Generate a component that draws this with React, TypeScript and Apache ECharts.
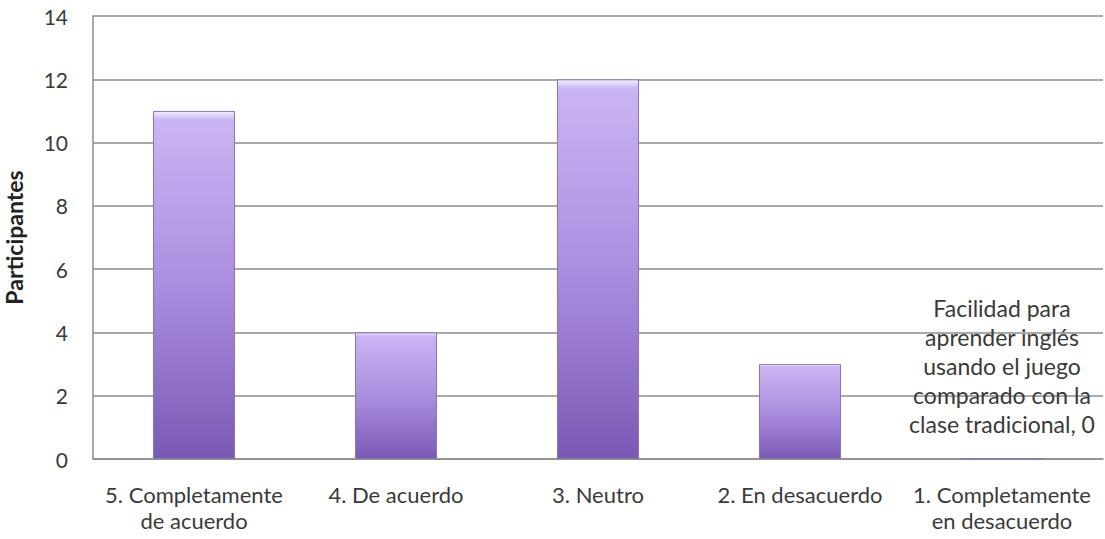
import React, { useEffect, useRef } from "react";
import * as echarts from "echarts";

const categories = [
  "5. Completamente\nde acuerdo",
  "4. De acuerdo",
  "3. Neutro",
  "2. En desacuerdo",
  "1. Completamente\nen desacuerdo",
];
const values = [11, 4, 12, 3, 0];
const seriesName =
  "Facilidad para aprender inglés usando el juego comparado con la clase tradicional";
const labelLines = [
  "Facilidad para",
  "aprender inglés",
  "usando el juego",
  "comparado con la",
  "clase tradicional",
];
const yTicks = { min: 0, max: 14, interval: 2 };
const yName = "Participantes";

export default function App() {
  const ref = useRef<HTMLDivElement>(null);
  useEffect(() => {
    if (!ref.current) return;
    const chart = echarts.init(ref.current, null, { renderer: "svg" });
    const font = "Lato, 'Open Sans', sans-serif";
    chart.setOption({
      animation: false,
      grid: {
        left: 93,
        right: 2,
        top: 16,
        bottom: 80,
        containLabel: false,
        outerBoundsMode: "none",
      },
      xAxis: {
        type: "category",
        data: categories,
        axisLine: { show: true, lineStyle: { color: "#8c8c8c", width: 1.5 } },
        axisTick: { show: false },
        axisLabel: {
          interval: 0,
          color: "#3a3a3a",
          fontFamily: font,
          fontSize: 22,
          lineHeight: 26,
          margin: 22,
        },
      },
      yAxis: {
        type: "value",
        min: yTicks.min,
        max: yTicks.max,
        interval: yTicks.interval,
        name: yName,
        nameLocation: "middle",
        nameGap: 68,
        nameTextStyle: {
          fontFamily: font,
          fontWeight: "bold",
          fontSize: 23,
          color: "#222",
        },
        axisLine: { show: true, lineStyle: { color: "#8c8c8c", width: 1.5 } },
        axisTick: { show: false },
        axisLabel: {
          color: "#3a3a3a",
          fontFamily: font,
          fontSize: 21,
          margin: 25,
        },
        splitLine: { lineStyle: { color: "#8c8c8c", width: 1.5 } },
      },
      series: [
        {
          name: seriesName,
          type: "bar",
          data: values.map((v, i) =>
            i === values.length - 1
              ? {
                  value: v,
                  label: {
                    show: true,
                    position: "top",
                    distance: 20,
                    formatter: (p: any) =>
                      labelLines.slice(0, -1).join("\n") +
                      "\n" +
                      labelLines[labelLines.length - 1] +
                      ", " +
                      p.value,
                    fontFamily: font,
                    fontSize: 23,
                    lineHeight: 29,
                    color: "#3a3a3a",
                    align: "center",
                  },
                }
              : v
          ),
          barWidth: 82,
          itemStyle: {
            color: new echarts.graphic.LinearGradient(0, 0, 0, 1, [
              { offset: 0, color: "#f3ecff" },
              { offset: 0.025, color: "#cbb4f3" },
              { offset: 0.5, color: "#ab8ee0" },
              { offset: 1, color: "#7a59b4" },
            ]),
            borderColor: "#8a76ad",
            borderWidth: 1,
          },
        },
      ],
    });
    return () => chart.dispose();
  }, []);
  return (
    <div
      ref={ref}
      style={{ position: "fixed", left: 0, top: 0, width: 1105, height: 539, background: "#fff" }}
    />
  );
}
